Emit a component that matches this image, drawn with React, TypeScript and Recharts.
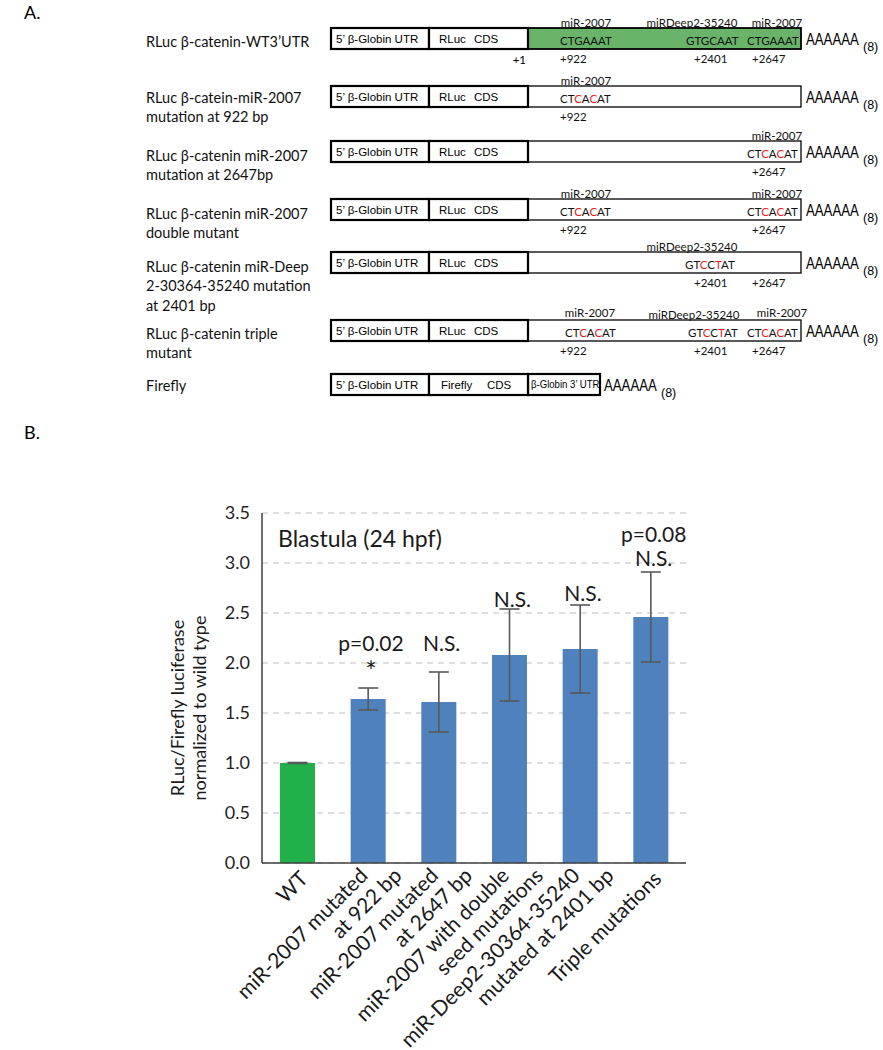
import React from 'react';
import { ComposedChart, Bar, XAxis, YAxis, CartesianGrid, ErrorBar, Cell, Scatter } from 'recharts';

// ---------- Part B data ----------
const categories = [
  'WT',
  'miR-2007 mutated at 922 bp',
  'miR-2007 mutated at 2647 bp',
  'miR-2007 with double seed mutations',
  'miR-Deep2-30364-35240 mutated at 2401 bp',
  'Triple mutations',
];
const tickLines = [
  ['WT'],
  ['miR-2007 mutated', 'at 922 bp'],
  ['miR-2007 mutated', 'at 2647 bp'],
  ['miR-2007 with double', 'seed mutations'],
  ['miR-Deep2-30364-35240', 'mutated at 2401 bp'],
  ['Triple mutations'],
];
const values = [1.0, 1.64, 1.61, 2.08, 2.14, 2.46];
const errors = [0.005, 0.11, 0.3, 0.46, 0.44, 0.45];
const barColors = ['#22b04b', '#4f81bd', '#4f81bd', '#4f81bd', '#4f81bd', '#4f81bd'];
const upperNotes = ['', 'p=0.02', 'N.S.', 'N.S.', 'N.S.', 'p=0.08'];
const upperNoteY = [null, 2.21, 2.21, 2.65, 2.71, 3.3];
const lowerNotes = ['', '*', '', '', '', 'N.S.'];
const lowerNoteY = [null, 1.93, null, null, null, 3.06];
const yTicks = [0, 0.5, 1.0, 1.5, 2.0, 2.5, 3.0, 3.5];
const yLabelLines = ['RLuc/Firefly luciferase', 'normalized to wild type'];
const panelTitle = 'Blastula (24 hpf)';

const data = categories.map((c, i) => ({
  cat: c,
  value: values[i],
  err: errors[i],
  up: upperNoteY[i],
  upText: upperNotes[i],
  low: lowerNoteY[i],
  lowText: lowerNotes[i],
}));

// ---------- Part A data ----------
const constructLabels = [
  ["RLuc \u03B2-catenin-WT3\u2019UTR"],
  ['RLuc \u03B2-catein-miR-2007', 'mutation at 922 bp'],
  ['RLuc \u03B2-catenin miR-2007', 'mutation at 2647bp'],
  ['RLuc \u03B2-catenin miR-2007', 'double mutant'],
  ['RLuc \u03B2-catenin miR-Deep', '2-30364-35240 mutation', 'at 2401 bp'],
  ['RLuc \u03B2-catenin triple', 'mutant'],
  ['Firefly'],
];
type Site = { name?: string; nameX?: number; nameDy?: number; seq?: string; red?: number[]; seqX?: number; pos: string; posX: number };
const constructSites: Site[][] = [
  [
    { name: 'miR-2007', nameX: 586, seq: 'CTGAAAT', red: [], seqX: 560, pos: '+922', posX: 560 },
    { name: 'miRDeep2-35240', nameX: 692, seq: 'GTGCAAT', red: [], seqX: 686, pos: '+2401', posX: 694 },
    { name: 'miR-2007', nameX: 777, seq: 'CTGAAAT', red: [], seqX: 747, pos: '+2647', posX: 752 },
  ],
  [{ name: 'miR-2007', nameX: 586, seq: 'CTCACAT', red: [2, 4], seqX: 560, pos: '+922', posX: 560 }],
  [{ name: 'miR-2007', nameX: 777, seq: 'CTCACAT', red: [2, 4], seqX: 747, pos: '+2647', posX: 752 }],
  [
    { name: 'miR-2007', nameX: 586, seq: 'CTCACAT', red: [2, 4], seqX: 560, pos: '+922', posX: 560 },
    { name: 'miR-2007', nameX: 777, seq: 'CTCACAT', red: [2, 4], seqX: 747, pos: '+2647', posX: 752 },
  ],
  [
    { name: 'miRDeep2-35240', nameX: 692, seq: 'GTCCTAT', red: [2, 4], seqX: 685, pos: '+2401', posX: 694 },
    { pos: '+2647', posX: 752 },
  ],
  [
    { name: 'miR-2007', nameX: 590, nameDy: -2, seq: 'CTCACAT', red: [2, 4], seqX: 565, pos: '+922', posX: 560 },
    { name: 'miRDeep2-35240', nameX: 694, seq: 'GTCCTAT', red: [2, 4], seqX: 688, pos: '+2401', posX: 694 },
    { name: 'miR-2007', nameX: 782, nameDy: -2, seq: 'CTCACAT', red: [2, 4], seqX: 747, pos: '+2647', posX: 752 },
  ],
  [],
];
const rowTops = [28, 86, 141, 199, 252, 320, 374];
const labelFirstY = [41, 97, 155, 213, 266, 333, 385];

const FONT = 'Lato, "Open Sans", sans-serif';
const ARIAL = '"Liberation Sans", Arial, sans-serif';

function XTick(props: any) {
  const { x, payload } = props;
  const idx = categories.indexOf(payload.value);
  const lines = tickLines[idx] || [payload.value];
  const axisY = 863;
  const items =
    lines.length === 1
      ? [{ t: lines[0], bx: x + 12, by: axisY + 17 }]
      : lines.map((t, i) => ({ t, bx: x + 1 + i * 34, by: axisY + 14 }));
  return (
    <g>
      {items.map((it, i) => (
        <text
          key={i}
          transform={`translate(${it.bx},${it.by}) rotate(-45)`}
          textAnchor="end"
          fontSize={21}
          fontFamily={FONT}
          fill="#1a1a1a"
        >
          {it.t}
        </text>
      ))}
    </g>
  );
}

const noteShape = (textKey: string) => (props: any) => {
  const { cx, cy, payload } = props;
  const t = payload && payload[textKey];
  if (!t || cy == null || isNaN(cy)) return <g />;
  return (
    <text x={cx + 3} y={cy} textAnchor="middle" dominantBaseline="central" fontSize={t === '*' ? 27 : 21} fontFamily={FONT} fill="#1a1a1a">
      {t}
    </text>
  );
};

function SeqText({ x, y, seq, red }: { x: number; y: number; seq: string; red: number[] }) {
  return (
    <text x={x} y={y} fontSize={11.5} fontFamily={FONT} dominantBaseline="central">
      {seq.split('').map((ch, i) => (
        <tspan key={i} fill={red.includes(i) ? '#e8191c' : '#111'}>
          {ch}
        </tspan>
      ))}
    </text>
  );
}

function PartA() {
  return (
    <svg width={883} height={450} style={{ position: 'absolute', left: 0, top: 0, pointerEvents: 'none' }}>
      <text x={24} y={12} fontSize={18} fontFamily={FONT} dominantBaseline="central">A.</text>
      <text x={24} y={432} fontSize={18} fontFamily={FONT} dominantBaseline="central">B.</text>
      {constructLabels.map((lines, r) =>
        lines.map((l, i) => (
          <text key={`${r}-${i}`} x={146} y={labelFirstY[r] + i * 19.5} fontSize={14.5} fontFamily={FONT} dominantBaseline="central" fill="#111">
            {l}
          </text>
        ))
      )}
      {rowTops.map((top, r) => {
        const isFirefly = r === 6;
        const h = 21;
        const utrEnd = isFirefly ? 600 : 801;
        const aX = isFirefly ? 604 : 806;
        const cy = top + h / 2;
        return (
          <g key={r}>
            <rect x={528} y={top} width={utrEnd - 528} height={h} fill={r === 0 ? '#6ab46a' : '#fff'} stroke="#000" strokeWidth={isFirefly ? 2.2 : r === 0 ? 1.8 : 1.3} />
            <rect x={331} y={top} width={98} height={h} fill="#fff" stroke="#000" strokeWidth={2.2} />
            <rect x={429} y={top} width={99} height={h} fill="#fff" stroke="#000" strokeWidth={2.2} />
            <text x={336} y={cy} fontSize={11.5} fontFamily={ARIAL} dominantBaseline="central">5&#8217; &#946;-Globin UTR</text>
            {isFirefly ? (
              <>
                <text x={441} y={cy} fontSize={11.5} fontFamily={ARIAL} dominantBaseline="central">Firefly</text>
                <text x={487} y={cy} fontSize={11.5} fontFamily={ARIAL} dominantBaseline="central">CDS</text>
                <text transform={`translate(531,${cy}) scale(1,1.15)`} fontSize={9.6} fontFamily={ARIAL} dominantBaseline="central">&#946;-Globin 3&#8217; UTR</text>
              </>
            ) : (
              <>
                <text x={439} y={cy} fontSize={11.5} fontFamily={ARIAL} dominantBaseline="central">RLuc</text>
                <text x={474} y={cy} fontSize={11.5} fontFamily={ARIAL} dominantBaseline="central">CDS</text>
              </>
            )}
            <text transform={`translate(${aX},${cy + 1}) scale(1,1.2)`} fontSize={13.2} fontFamily={ARIAL} dominantBaseline="central">AAAAAA</text>
            <text x={aX + 57} y={cy + 8} fontSize={12.5} fontFamily={ARIAL} dominantBaseline="central">(8)</text>
            {r === 0 && (
              <text x={526} y={top + 31} fontSize={11.5} fontFamily={FONT} textAnchor="end" dominantBaseline="central">+1</text>
            )}
            {constructSites[r].map((s, k) => (
              <g key={k}>
                {s.name && (
                  <text x={s.nameX} y={top - 6 + (s.nameDy || 0)} fontSize={11.5} fontFamily={FONT} textAnchor="middle" dominantBaseline="central" fill="#111">
                    {s.name}
                  </text>
                )}
                {s.seq && <SeqText x={s.seqX as number} y={top + 11.5} seq={s.seq} red={s.red || []} />}
                <text x={s.posX} y={top + 30.5} fontSize={11.5} fontFamily={FONT} dominantBaseline="central" fill="#111">
                  {s.pos}
                </text>
              </g>
            ))}
          </g>
        );
      })}
    </svg>
  );
}

function ChartText() {
  return (
    <svg width={883} height={1050} style={{ position: 'absolute', left: 0, top: 0, pointerEvents: 'none' }}>
      <text x={278} y={538} fontSize={23} fontFamily={FONT} dominantBaseline="central" fill="#1a1a1a">{panelTitle}</text>
      {yLabelLines.map((l, i) => (
        <text key={i} transform={`translate(${177 + i * 22},708) rotate(-90)`} textAnchor="middle" dominantBaseline="central" fontSize={18} fontFamily={FONT} fill="#1a1a1a">
          {l}
        </text>
      ))}
    </svg>
  );
}

export default function App() {
  return (
    <div style={{ position: 'absolute', left: 0, top: 0, width: 883, height: 1050, background: '#fff', overflow: 'hidden' }}>
      <ComposedChart width={883} height={1050} data={data} margin={{ top: 513, right: 197, bottom: 0, left: 0 }}>
        <CartesianGrid vertical={false} stroke="#d4d4d4" strokeDasharray="6 5" strokeWidth={1.3} />
        <XAxis
          dataKey="cat"
          height={187}
          interval={0}
          tickLine={false}
          axisLine={{ stroke: '#3f3f3f', strokeWidth: 1.5 }}
          tick={<XTick />}
        />
        <YAxis
          domain={[0, 3.5]}
          ticks={yTicks}
          interval={0}
          width={262}
          tickFormatter={(v: number) => v.toFixed(1)}
          tickLine={false}
          tickMargin={6}
          axisLine={{ stroke: '#3f3f3f', strokeWidth: 1.5 }}
          tick={{ fontSize: 18, fill: '#1f1f1f', fontFamily: FONT }}
        />
        <Bar dataKey="value" barSize={35} isAnimationActive={false}>
          {data.map((d, i) => (
            <Cell key={i} fill={barColors[i]} />
          ))}
          <ErrorBar dataKey="err" width={10} strokeWidth={1.6} stroke="#595959" direction="y" />
        </Bar>
        <Scatter dataKey="up" isAnimationActive={false} shape={noteShape('upText')} />
        <Scatter dataKey="low" isAnimationActive={false} shape={noteShape('lowText')} />
      </ComposedChart>
      <PartA />
      <ChartText />
    </div>
  );
}
